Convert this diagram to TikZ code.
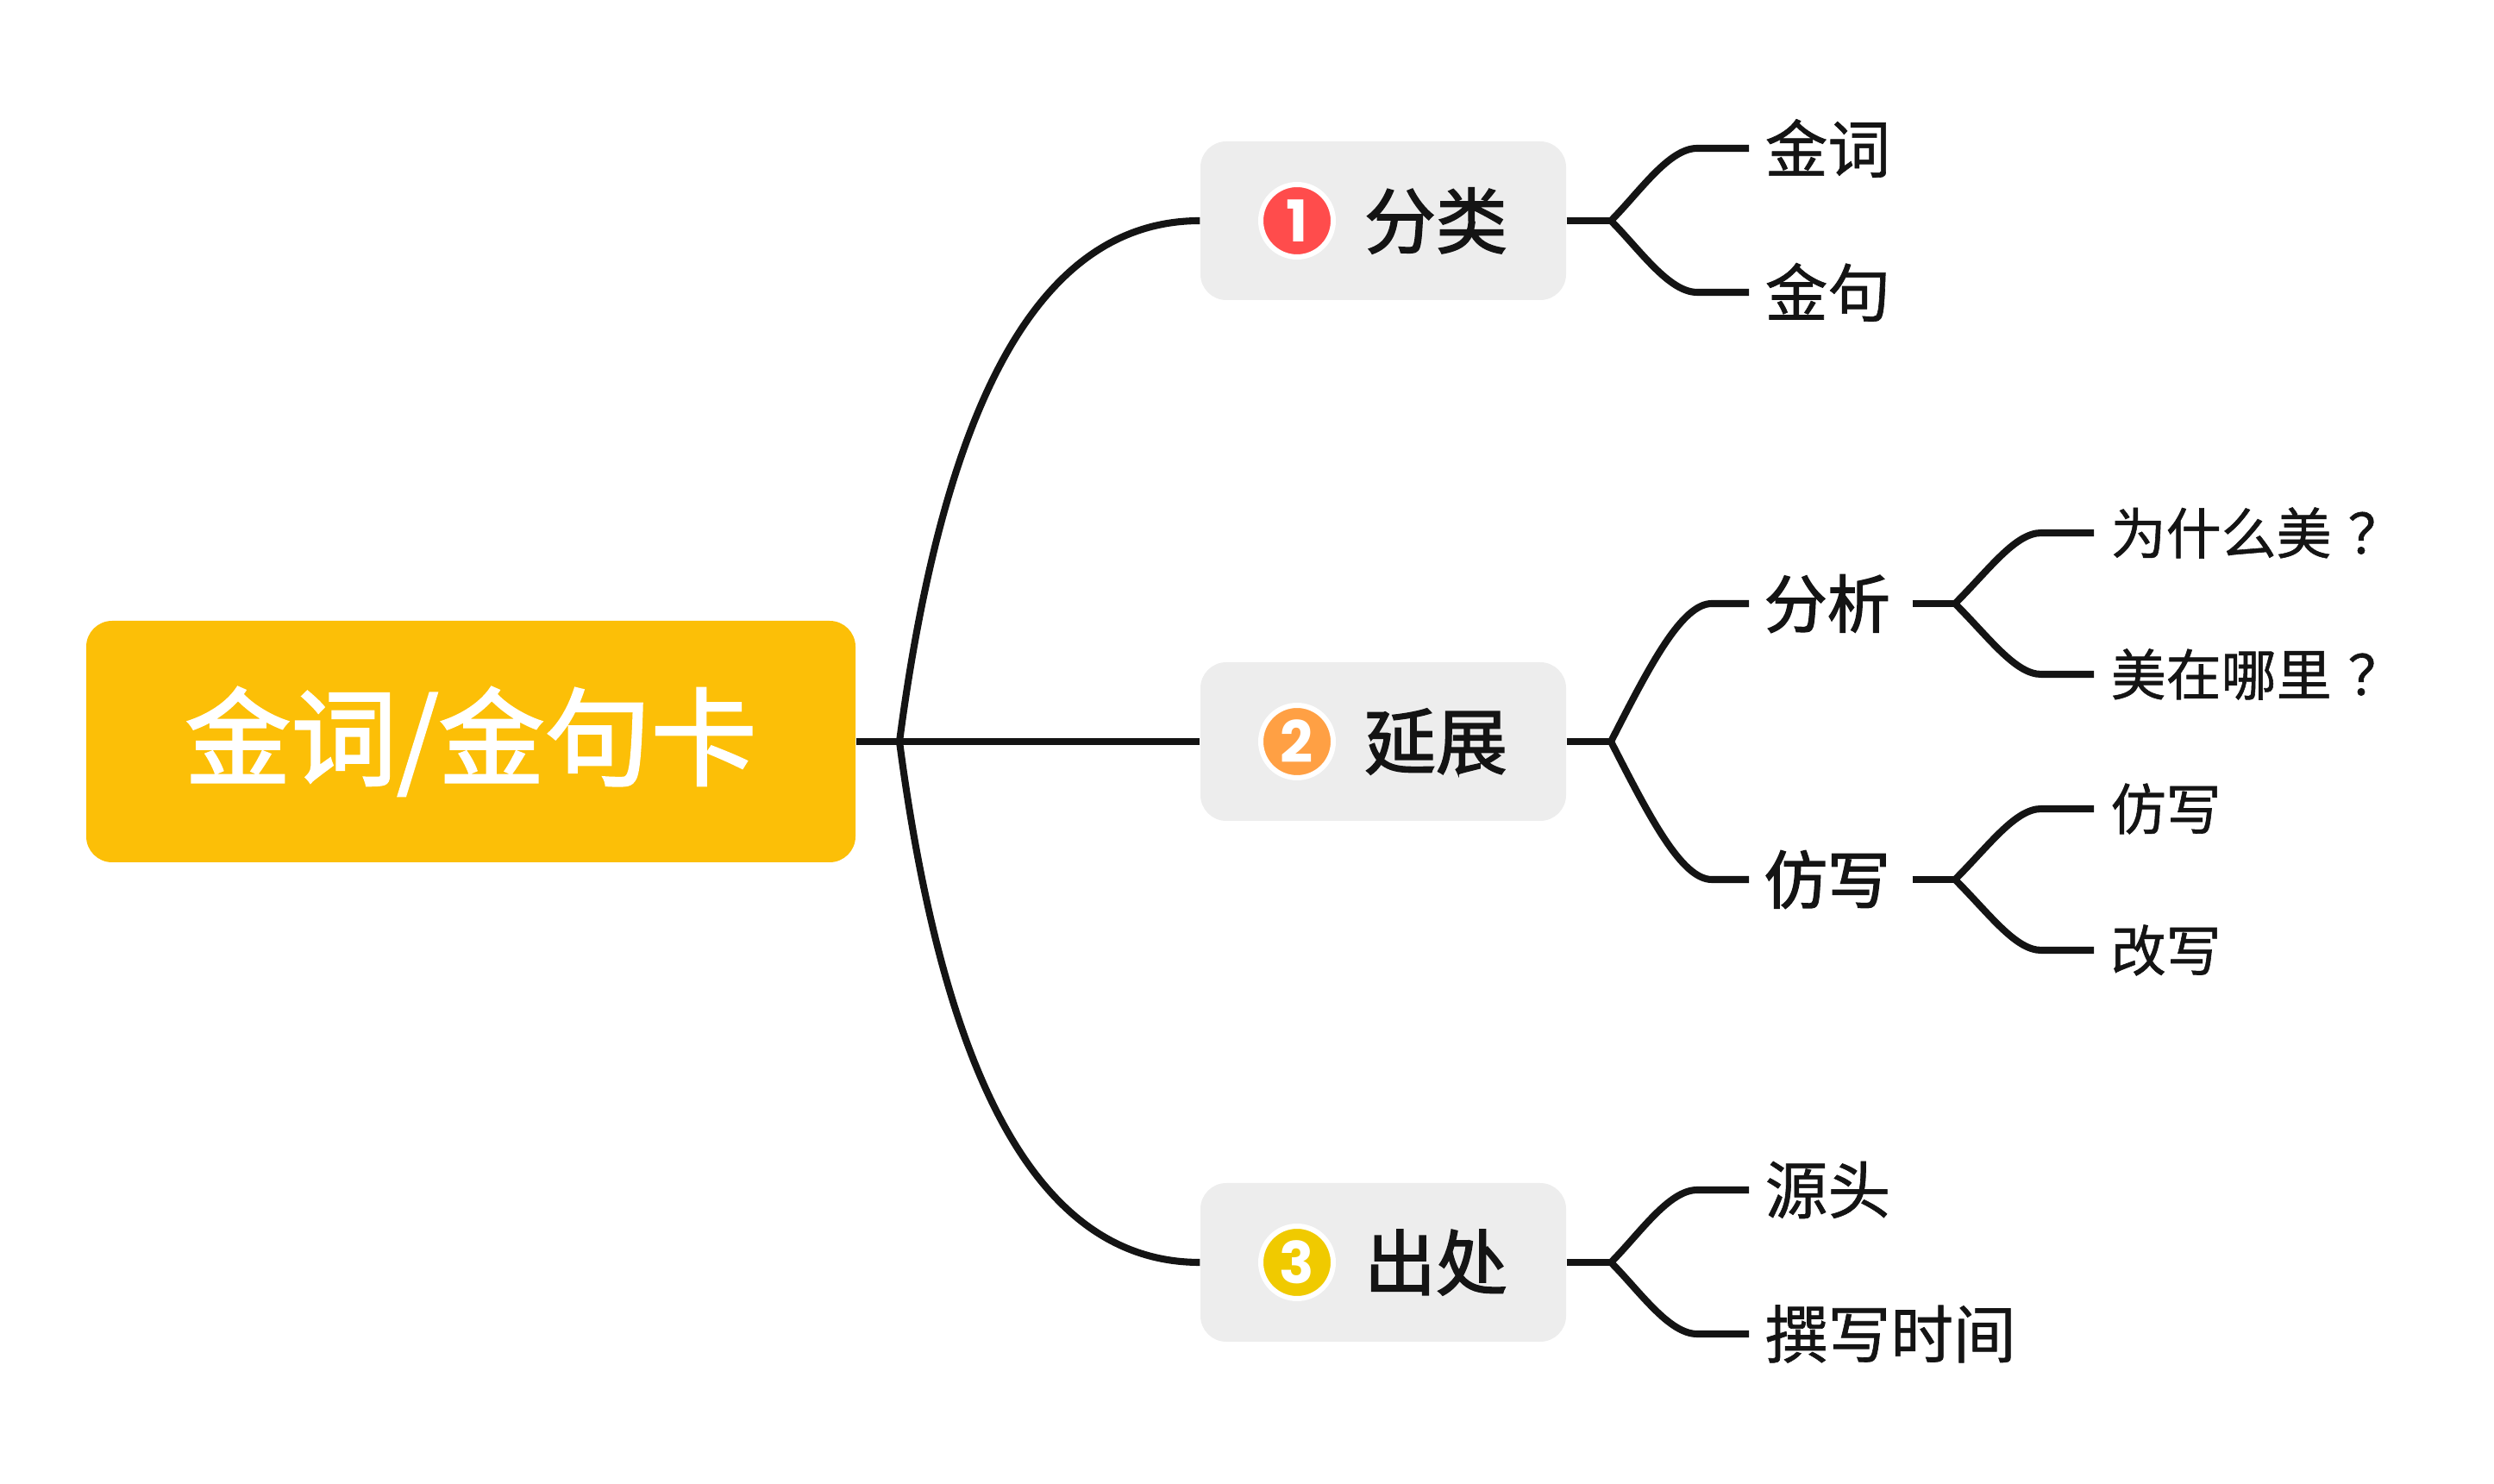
\documentclass[tikz,border=0pt]{standalone}
\usepackage{fontspec}
\setmainfont{Noto Sans CJK SC}
\newfontfamily\cjkmedium[FakeBold=2]{Noto Sans CJK SC}
\newfontfamily\cjkleaf[FakeBold=0.9]{Noto Sans CJK SC}
\newfontfamily\badgefont{Poppins}
\definecolor{inkblack}{RGB}{20, 20, 20}
\definecolor{rootgold}{RGB}{252, 191, 7}
\definecolor{boxgray}{RGB}{237, 237, 237}
\definecolor{badgered}{RGB}{255, 76, 76}
\definecolor{badgeorange}{RGB}{255, 160, 68}
\definecolor{badgeyellow}{RGB}{240, 202, 0}
\usetikzlibrary{positioning,calc}

\tikzset{
    rootbox/.style={fill=rootgold,rounded corners=0.3cm,minimum width=8.92cm,minimum height=2.8cm,
        text=white,font=\cjkmedium\fontsize{35}{40}\selectfont},
    topicbox/.style={fill=boxgray,rounded corners=0.3cm,minimum width=4.24cm,minimum height=1.84cm},
    topictext/.style={inner sep=0pt,text=inkblack,font=\cjkmedium\fontsize{23.6}{28}\selectfont},
    badge/.style={circle,draw=white,line width=0.06cm,minimum size=0.84cm,inner sep=0pt,
        text=white,font=\badgefont\bfseries\fontsize{19}{22}\selectfont},
    midleaf/.style={anchor=west,inner xsep=0.17cm,inner ysep=0pt,text=inkblack,font=\cjkmedium\fontsize{20.8}{25}\selectfont},
    leaf/.style={anchor=west,inner xsep=0.18cm,inner ysep=0pt,text=inkblack,font=\cjkleaf\fontsize{20.7}{24}\selectfont},
    smallleaf/.style={anchor=west,inner xsep=0.19cm,inner ysep=0pt,text=inkblack,font=\cjkleaf\fontsize{18.2}{22}\selectfont},
    link/.style={draw=inkblack,line width=2.3pt}
}

\begin{document}
\begin{tikzpicture}
    \useasboundingbox (0,0) rectangle (28.92,17.2);

    % root and the three topics
    \node[rootbox] (root) at (5.46,8.6) {金词/金句卡};
    \node[topicbox] (classify) at (16.04,14.64) {};
    \node[topicbox] (extend) at (16.04,8.6) {};
    \node[topicbox] (source) at (16.04,2.56) {};
    \node[badge,fill=badgered] (badgeone) at (15.04,14.64) {1};
    \node[badge,fill=badgeorange] (badgetwo) at (15.04,8.6) {2};
    \node[badge,fill=badgeyellow] (badgethree) at (15.04,2.56) {3};
    \node[topictext] (classifytext) at (16.65,14.64) {分类};
    \node[topictext] (extendtext) at (16.65,8.6) {延展};
    \node[topictext] (sourcetext) at (16.65,2.56) {出处};

    % leaves
    \node[leaf] (goldword) at (20.28,15.48) {金词};
    \node[leaf] (goldline) at (20.28,13.81) {金句};
    \node[midleaf] (analyse) at (20.28,10.2) {分析};
    \node[midleaf] (imitate) at (20.28,7.0) {仿写};
    \node[smallleaf] (whybeauty) at (24.28,11.02) {为什么美\kern0.3em？};
    \node[smallleaf] (wherebeauty) at (24.28,9.38) {美在哪里\kern0.3em？};
    \node[smallleaf] (imitateleaf) at (24.28,7.82) {仿写};
    \node[smallleaf] (rewrite) at (24.28,6.18) {改写};
    \node[leaf] (origin) at (20.28,3.4) {源头};
    \node[leaf] (writetime) at (20.28,1.73) {撰写时间};

    % hubs
    \coordinate (roothub) at (10.43,8.6);
    \coordinate (classifyhub) at (18.68,14.64);
    \coordinate (extendhub) at (18.68,8.6);
    \coordinate (sourcehub) at (18.68,2.56);
    \coordinate (analysehub) at (22.67,10.2);
    \coordinate (imitatehub) at (22.67,7.0);

    % root connectors
    \draw[link] (root.east) -- (extend.west);
    \draw[link] (roothub) .. controls +(0.5,3.8) and +(-1.92,0) .. (classify.west);
    \draw[link] (roothub) .. controls +(0.5,-3.8) and +(-1.92,0) .. (source.west);

    % first topic
    \draw[link] (classify.east) -- (classifyhub);
    \draw[link] (classifyhub) .. controls +(0.33,0.33) and +(-0.33,0) .. ($(goldword.west)+(-0.6,0)$) -- (goldword.west);
    \draw[link] (classifyhub) .. controls +(0.33,-0.33) and +(-0.33,0) .. ($(goldline.west)+(-0.6,0)$) -- (goldline.west);

    % second topic
    \draw[link] (extend.east) -- (extendhub);
    \draw[link] (extendhub) .. controls +(0.45,0.88) and +(-0.35,0) .. ($(analyse.west)+(-0.43,0)$) -- (analyse.west);
    \draw[link] (extendhub) .. controls +(0.45,-0.88) and +(-0.35,0) .. ($(imitate.west)+(-0.43,0)$) -- (imitate.west);
    \draw[link] ($(analyse.east)+(0.08,0)$) -- (analysehub);
    \draw[link] (analysehub) .. controls +(0.4,0.4) and +(-0.3,0) .. ($(whybeauty.west)+(-0.61,0)$) -- (whybeauty.west);
    \draw[link] (analysehub) .. controls +(0.4,-0.4) and +(-0.3,0) .. ($(wherebeauty.west)+(-0.61,0)$) -- (wherebeauty.west);
    \draw[link] ($(imitate.east)+(0.08,0)$) -- (imitatehub);
    \draw[link] (imitatehub) .. controls +(0.4,0.4) and +(-0.3,0) .. ($(imitateleaf.west)+(-0.61,0)$) -- (imitateleaf.west);
    \draw[link] (imitatehub) .. controls +(0.4,-0.4) and +(-0.3,0) .. ($(rewrite.west)+(-0.61,0)$) -- (rewrite.west);

    % third topic
    \draw[link] (source.east) -- (sourcehub);
    \draw[link] (sourcehub) .. controls +(0.33,0.33) and +(-0.33,0) .. ($(origin.west)+(-0.6,0)$) -- (origin.west);
    \draw[link] (sourcehub) .. controls +(0.33,-0.33) and +(-0.33,0) .. ($(writetime.west)+(-0.6,0)$) -- (writetime.west);
\end{tikzpicture}
\end{document}
